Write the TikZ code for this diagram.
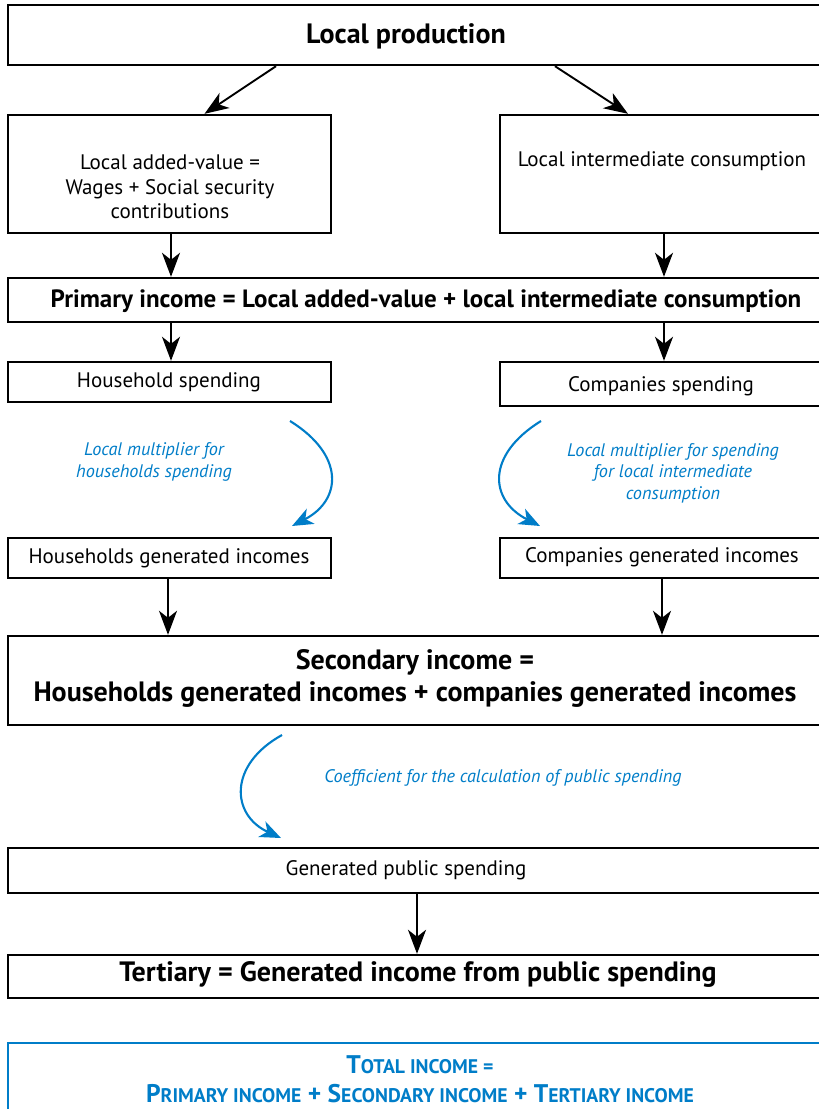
\documentclass[tikz,border=0pt]{standalone}
\usepackage{fontspec}
\setmainfont{PT Sans}
\usetikzlibrary{arrows.meta}
\definecolor{flowblue}{RGB}{0,125,200}
\newcommand\capsword[2]{#1{\fontsize{19.7}{22}\selectfont #2}}
\tikzset{
  box/.style={draw, line width=2.4pt, inner sep=0pt},
  flow/.style={line width=1.9pt, -{Stealth[length=24pt,width=18pt,inset=7pt]}},
  curvearrow/.style={flowblue, line width=2.1pt, -{Stealth[length=21pt,width=17pt,inset=6pt]}},
  note/.style={flowblue, font=\fontsize{18.2}{21.5}\selectfont\itshape, align=center},
  plain/.style={font=\fontsize{21}{24.5}\selectfont, align=center},
  strong/.style={font=\fontsize{28}{32}\selectfont\bfseries, align=center},
}
\begin{document}
\begin{tikzpicture}[x=1pt,y=-1pt]
\useasboundingbox (0,0) rectangle (819,1109);
\clip (0,0) rectangle (819,1109);
% boxes
\node[box, minimum width=832pt, minimum height=60pt] (prod) at (424,35) {};
\node[box, minimum width=323pt, minimum height=118pt] (addval) at (169.5,174) {};
\node[box, minimum width=340pt, minimum height=118pt] (interm) at (670,174) {};
\node[box, minimum width=832pt, minimum height=44pt] (primary) at (424,300) {};
\node[box, minimum width=323pt, minimum height=40pt] (hhspend) at (169.5,382) {};
\node[box, minimum width=340pt, minimum height=44pt] (cospend) at (670,384) {};
\node[box, minimum width=323pt, minimum height=40pt] (hhgen) at (169.5,558) {};
\node[box, minimum width=340pt, minimum height=40pt] (cogen) at (670,558) {};
\node[box, minimum width=832pt, minimum height=89pt] (secondary) at (424,680.5) {};
\node[box, minimum width=832pt, minimum height=45pt] (pubspend) at (424,870.5) {};
\node[box, minimum width=832pt, minimum height=43pt] (tertiary) at (424,976.5) {};
\node[box, draw=flowblue, minimum width=832pt, minimum height=100pt] (total) at (424,1093) {};
% texts
\node[strong] (prodtxt) at (406,36) {Local production};
\node[plain] (addvaltxt) at (170,187) {Local added-value =\\Wages + Social security\\contributions};
\node[plain] (intermtxt) at (662,161) {Local intermediate consumption};
\node[strong, font=\fontsize{25}{28}\selectfont\bfseries] (primarytxt) at (426,301) {Primary income = Local added-value + local intermediate consumption};
\node[plain] (hhspendtxt) at (169,382) {Household spending};
\node[plain] (cospendtxt) at (661,386) {Companies spending};
\node[plain] (hhgentxt) at (169,558) {Households generated incomes};
\node[plain] (cogentxt) at (662,557) {Companies generated incomes};
\node[strong] (secondarytxt) at (415,678) {Secondary income =\\Households generated incomes + companies generated incomes};
\node[plain] (pubspendtxt) at (406,870) {Generated public spending};
\node[strong] (tertiarytxt) at (418,974) {Tertiary = Generated income from public spending};
\node[strong, text=flowblue, font=\fontsize{25.5}{29}\selectfont\bfseries] (totaltxt) at (420,1079.5)
  {\capsword{T}{OTAL INCOME =}\\\capsword{P}{RIMARY INCOME} + \capsword{S}{ECONDARY INCOME} + \capsword{T}{ERTIARY INCOME}};
\node[note] (hhnote) at (154,462) {Local multiplier for\\households spending};
\node[note] (conote) at (673,473) {Local multiplier for spending\\for local intermediate\\consumption};
\node[note] (pubnote) at (503,778) {Coefficient for the calculation of public spending};
% black connectors
\draw[flow] ([xshift=-148pt]prod.south) -- ([xshift=35pt]addval.north);
\draw[flow] ([xshift=131pt]prod.south) -- ([xshift=-42pt]interm.north);
\draw[flow] ([xshift=1.5pt]addval.south) -- ([xshift=1.5pt]addval.south |- primary.north);
\draw[flow] ([xshift=-6pt]interm.south) -- ([xshift=-6pt]interm.south |- primary.north);
\draw[flow] ([xshift=-253pt]primary.south) -- ([xshift=1.5pt]hhspend.north);
\draw[flow] ([xshift=240pt]primary.south) -- ([xshift=-6pt]cospend.north);
\draw[flow] ([xshift=-1.5pt]hhgen.south) -- ([xshift=-1.5pt]hhgen.south |- secondary.north);
\draw[flow] ([xshift=-8pt]cogen.south) -- ([xshift=-8pt]cogen.south |- secondary.north);
\draw[flow] ([xshift=-7pt]pubspend.south) -- ([xshift=-7pt]pubspend.south |- tertiary.north);
% blue connectors
\coordinate (hhfrom) at (290,421);
\coordinate (hhto) at (292,526);
\coordinate (cofrom) at (541,421);
\coordinate (coto) at (540,526);
\coordinate (pubfrom) at (282,735);
\coordinate (pubto) at (281,838);
\draw[curvearrow] (hhfrom) .. controls (345,455) and (342,500) .. (hhto);
\draw[curvearrow] (cofrom) .. controls (486,455) and (489,500) .. (coto);
\draw[curvearrow] (pubfrom) .. controls (228,765) and (231,815) .. (pubto);
\end{tikzpicture}
\end{document}
